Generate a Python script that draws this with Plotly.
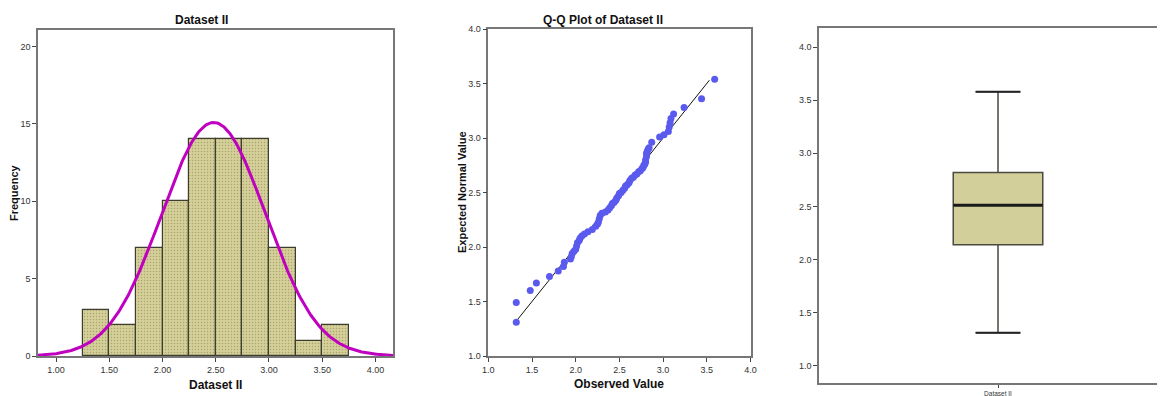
import numpy as np
import plotly.graph_objects as go

# ---------------- data ----------------
# Histogram of Dataset II
bin_left = [1.25, 1.50, 1.75, 2.00, 2.25, 2.50, 2.75, 3.00, 3.25, 3.50]
bin_count = [3, 2, 7, 10, 14, 14, 14, 7, 1, 2]
BIN_WIDTH = 0.25
# fitted normal curve parameters (as shown by the overlay)
FIT_MEAN = 2.48
FIT_SD = 0.489
FIT_N = 74

# Q-Q plot points (observed value, expected normal value)
qq_observed = [1.32, 1.32, 1.48, 1.55, 1.70,
               1.80, 1.86, 1.87, 1.94, 1.95, 1.96, 1.98,
               2.00, 2.01, 2.02, 2.04, 2.05, 2.07, 2.10, 2.14, 2.19, 2.23,
               2.25, 2.26, 2.27, 2.28, 2.30, 2.34, 2.37, 2.39, 2.41, 2.42, 2.44, 2.46, 2.47, 2.49,
               2.50, 2.52, 2.54, 2.56, 2.57, 2.59, 2.61, 2.62, 2.64, 2.66, 2.68, 2.70, 2.72, 2.74,
               2.76, 2.77, 2.78, 2.79, 2.80, 2.80, 2.81, 2.81, 2.82, 2.83, 2.84, 2.87, 2.96,
               3.01, 3.06, 3.07, 3.08, 3.09, 3.12, 3.24,
               3.44, 3.59]
qq_expected = [1.31, 1.49, 1.60, 1.67, 1.73,
               1.78, 1.82, 1.86, 1.89, 1.91, 1.94, 1.96,
               1.98, 2.01, 2.04, 2.06, 2.08, 2.10, 2.12, 2.14, 2.16, 2.19,
               2.21, 2.23, 2.26, 2.29, 2.31, 2.32, 2.34, 2.36, 2.38, 2.40, 2.41, 2.43, 2.45, 2.47,
               2.49, 2.50, 2.52, 2.54, 2.56, 2.57, 2.59, 2.61, 2.63, 2.64, 2.66, 2.67, 2.69, 2.70,
               2.72, 2.73, 2.75, 2.76, 2.78, 2.80, 2.83, 2.86, 2.88, 2.90, 2.91, 2.96, 3.01,
               3.03, 3.06, 3.10, 3.14, 3.18, 3.22, 3.28,
               3.36, 3.54]
qq_line = [1.32, 3.53]

# Box plot statistics
box_label = "Dataset II"
box_min = 1.31
box_q1 = 2.14
box_median = 2.51
box_q3 = 2.82
box_max = 3.58

# ---------------- styling ----------------
OFF = 8                      # page body margin of the html page
WIN_W, WIN_H = 1165, 396
W, H = WIN_W - OFF, WIN_H - OFF
NARROW = "Liberation Sans Narrow, Arial Narrow, Liberation Sans, Arial, sans-serif"
SANS = "Liberation Sans, Arial, sans-serif"
FRAME = "#777777"
TICKC = "#333333"
BAR_FILL = "#d5d099"
BAR_DOT = "#aaa56f"
BOX_FILL = "#d3cf9a"

fig = go.Figure()

# histogram bars
bin_centers = [b + BIN_WIDTH / 2 for b in bin_left]
fig.add_trace(go.Bar(
    x=bin_centers, y=bin_count, width=[BIN_WIDTH] * len(bin_left),
    marker=dict(color=BAR_FILL,
                line=dict(color="#3d3d30", width=1.2),
                pattern=dict(shape=".", fgcolor=BAR_DOT, bgcolor=BAR_FILL,
                             size=3, solidity=0.2)),
    xaxis="x", yaxis="y", showlegend=False, hoverinfo="skip"))

# normal curve
xs = np.linspace(0.83, 4.165, 300)
ys = FIT_N * BIN_WIDTH / (FIT_SD * np.sqrt(2 * np.pi)) * np.exp(-0.5 * ((xs - FIT_MEAN) / FIT_SD) ** 2)
fig.add_trace(go.Scatter(x=xs, y=ys, mode="lines",
                         line=dict(color="#c000c0", width=3),
                         xaxis="x", yaxis="y", showlegend=False, hoverinfo="skip"))

# Q-Q reference line and points
fig.add_trace(go.Scatter(x=qq_line, y=qq_line, mode="lines",
                         line=dict(color="#111111", width=1),
                         xaxis="x2", yaxis="y2", showlegend=False))
fig.add_trace(go.Scatter(x=qq_observed, y=qq_expected, mode="markers",
                         marker=dict(color="#5a5aee", size=7, line=dict(width=0)),
                         xaxis="x2", yaxis="y2", showlegend=False))

# box plot
BOX_W = 0.5
WHISK = 0.5
fig.add_trace(go.Box(
    x=[0], q1=[box_q1], median=[box_median], q3=[box_q3],
    lowerfence=[box_min], upperfence=[box_max],
    width=BOX_W, whiskerwidth=WHISK,
    fillcolor=BOX_FILL, line=dict(color="#4a4a40", width=1.5),
    boxpoints=False, xaxis="x3", yaxis="y3", showlegend=False))
# thick median line and whisker caps as drawn by the original software
fig.add_trace(go.Scatter(x=[-BOX_W / 2, BOX_W / 2], y=[box_median, box_median],
                         mode="lines", line=dict(color="#1a1a1a", width=3),
                         xaxis="x3", yaxis="y3", showlegend=False))
cap_half = BOX_W * WHISK / 2
for v in (box_min, box_max):
    fig.add_trace(go.Scatter(x=[-cap_half, cap_half], y=[v, v],
                             mode="lines", line=dict(color="#222222", width=2),
                             xaxis="x3", yaxis="y3", showlegend=False))

# window pixel -> paper fraction
def fx(px):
    return (px - OFF) / W

def fy(py):
    return 1 - (py - OFF) / H

def px_x(a, b):
    return [max(0.0, fx(a)), min(1.0, fx(b))]

def px_y(top, bottom):
    return [max(0.0, fy(bottom)), min(1.0, fy(top))]

tickfont = dict(family=NARROW, size=9, color=TICKC)
axis_common = dict(showgrid=False, zeroline=False, showline=True, linecolor=FRAME,
                   linewidth=1.5, ticks="outside", ticklen=4, tickcolor="#444444",
                   tickfont=tickfont, automargin=False)

fig.update_layout(
    template="none",
    width=W, height=H, margin=dict(l=0, r=0, t=0, b=0, pad=0),
    paper_bgcolor="white", plot_bgcolor="white", bargap=0,
    xaxis=dict(domain=px_x(38, 393), range=[0.83, 4.165], tickvals=[1, 1.5, 2, 2.5, 3, 3.5, 4],
               tickformat=".2f", mirror=True, anchor="y", **axis_common),
    yaxis=dict(domain=px_y(30, 356), range=[0, 21.07], tickvals=[0, 5, 10, 15, 20],
               mirror=True, anchor="x", **axis_common),
    xaxis2=dict(domain=px_x(488.3, 750.5), range=[1, 4], tickvals=[1, 1.5, 2, 2.5, 3, 3.5, 4],
                tickformat=".1f", mirror=True, anchor="y2", **axis_common),
    yaxis2=dict(domain=px_y(29, 356), range=[1, 4], tickvals=[1, 1.5, 2, 2.5, 3, 3.5, 4],
                tickformat=".1f", mirror=True, anchor="x2", **axis_common),
    xaxis3=dict(domain=px_x(819, 1165), range=[-1, 0.933], tickvals=[0], ticktext=[box_label],
                mirror=True, anchor="y3",
                **{**axis_common, "ticklen": 3, "tickfont": dict(family=NARROW, size=6.5, color=TICKC)}),
    yaxis3=dict(domain=px_y(28, 383), range=[0.837, 4.18], tickvals=[1, 1.5, 2, 2.5, 3, 3.5, 4],
                tickformat=".1f", mirror=False, anchor="x3", **axis_common),
)

ann = [
    dict(text="<b>Dataset II</b>", x=201, y=20, size=12, family=NARROW, angle=0),
    dict(text="<b>Dataset II</b>", x=215, y=385, size=12, family=NARROW, angle=0),
    dict(text="<b>Frequency</b>", x=14, y=193, size=11, family=SANS, angle=-90),
    dict(text="<b>Q-Q Plot of Dataset II</b>", x=603, y=20, size=12, family=NARROW, angle=0),
    dict(text="<b>Observed Value</b>", x=619, y=384, size=12, family=NARROW, angle=0),
    dict(text="<b>Expected Normal Value</b>", x=462, y=192, size=11, family=SANS, angle=-90),
]
for a in ann:
    fig.add_annotation(text=a["text"], x=fx(a["x"]), y=fy(a["y"]), xref="paper", yref="paper",
                       showarrow=False, xanchor="center", yanchor="middle", textangle=a["angle"],
                       font=dict(family=a["family"], size=a["size"], color="#111111"))

fig.write_html("out.html")
